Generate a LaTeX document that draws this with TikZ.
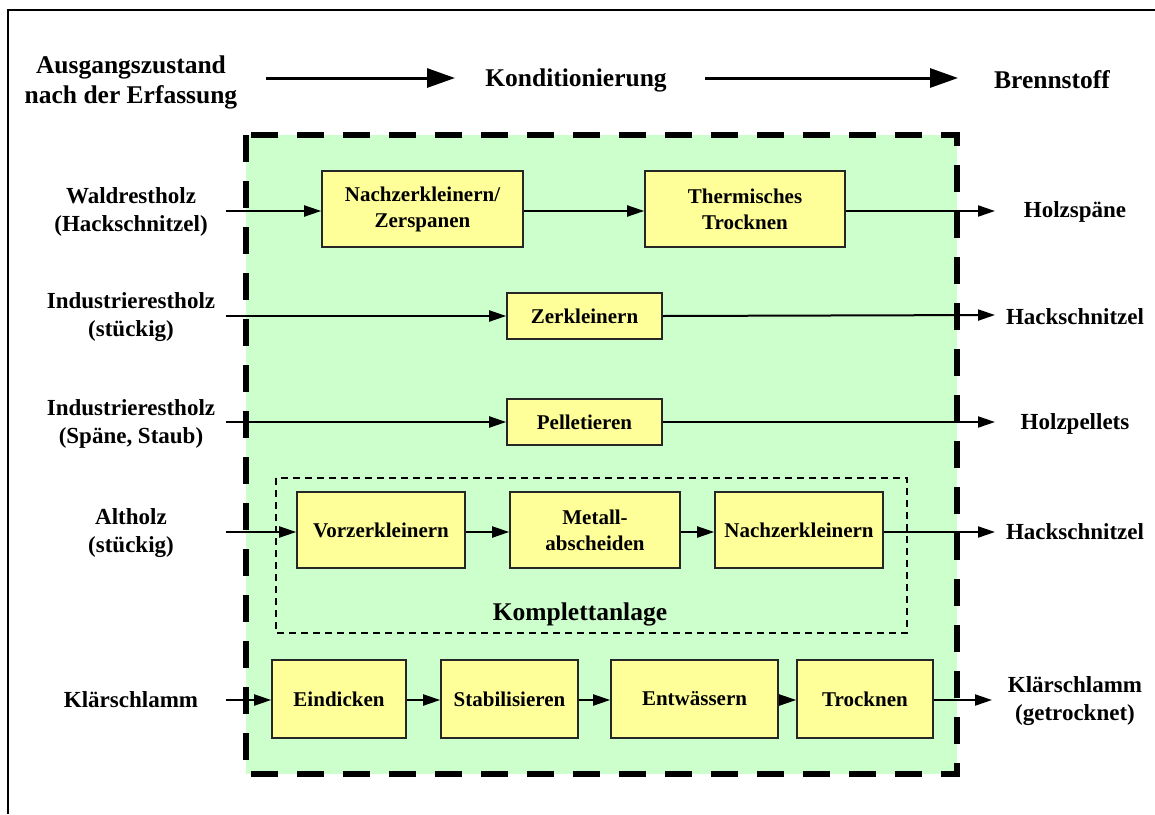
\documentclass[tikz,border=0pt]{standalone}
\usepackage{fontspec}
\setmainfont{Liberation Serif}
\usetikzlibrary{arrows.meta}
\definecolor{boxgreen}{HTML}{CCFFCC}
\definecolor{boxyellow}{HTML}{FFFF99}
\tikzset{
  proc/.style={draw=black!85, line width=1.6pt, fill=boxyellow, inner sep=0pt, align=center,
    font=\fontsize{21}{26}\selectfont\bfseries},
  lbl/.style={align=center, inner sep=0pt, font=\fontsize{23}{28}\selectfont\bfseries},
  hdr/.style={align=center, inner sep=0pt, font=\fontsize{25.5}{30}\selectfont\bfseries},
  flow/.style={line width=2pt, -{Triangle[length=17pt,width=11pt]}},
  bigflow/.style={line width=3pt, -{Triangle[length=28pt,width=19pt]}},
}
\begin{document}
\begin{tikzpicture}[x=1pt,y=-1pt]
\useasboundingbox (0,0) rectangle (1155,814);
% outer frame (top and left)
\draw[line width=2.5pt] (8,814) -- (8,10) -- (1155,10);
% green area
\fill[boxgreen] (246,135) rectangle (957,774);
\draw[line width=6.5pt, dash pattern=on 27pt off 19pt] (246,135) rectangle (957,774);
% Komplettanlage dashed
\draw[line width=1.6pt, dash pattern=on 7pt off 5pt] (276,478) rectangle (907,633);
\node[hdr] (komp) at (580,614) {Komplettanlage};

% header
\node[hdr] (h1) at (131,82) {Ausgangszustand\\nach der Erfassung};
\node[hdr] (h2) at (576,80) {Konditionierung};
\node[hdr] (h3) at (1052,80) {Brennstoff};
\coordinate (ha1) at (266,78);
\coordinate (hb1) at (455,78);
\coordinate (ha2) at (705,78);
\coordinate (hb2) at (958,78);
\draw[bigflow] (ha1) -- (hb1);
\draw[bigflow] (ha2) -- (hb2);

% left labels
\node[lbl] (l1) at (131,212) {Waldrestholz\\(Hackschnitzel)};
\node[lbl] (l2) at (131,317) {Industrierestholz\\(stückig)};
\node[lbl] (l3) at (131,424) {Industrierestholz\\(Späne, Staub)};
\node[lbl] (l4) at (131,533) {Altholz\\(stückig)};
\node[lbl] (l5) at (131,700) {Klärschlamm};

% right labels
\node[lbl] (r1) at (1075,212) {Holzspäne};
\node[lbl] (r2) at (1075,317) {Hackschnitzel};
\node[lbl] (r3) at (1075,424) {Holzpellets};
\node[lbl] (r4) at (1075,532) {Hackschnitzel};
\node[lbl] (r5) at (1075,701) {Klärschlamm\\(getrocknet)};

% boxes
\node[proc, minimum width=201pt, minimum height=76pt] (a1) at (422.5,209) {Nachzerkleinern/\\Zerspanen};
\node[proc, minimum width=200pt, minimum height=76pt] (a2) at (745,209) {Thermisches\\Trocknen};
\node[proc, minimum width=155pt, minimum height=46pt] (b1) at (584.5,316) {Zerkleinern};
\node[proc, minimum width=155pt, minimum height=46pt] (c1) at (584.5,422) {Pelletieren};
\node[proc, minimum width=168pt, minimum height=76pt] (d1) at (381,530) {Vorzerkleinern};
\node[proc, minimum width=170pt, minimum height=76pt] (d2) at (595,530) {Metall-\\abscheiden};
\node[proc, minimum width=168pt, minimum height=76pt] (d3) at (799,530) {Nachzerkleinern};
\node[proc, minimum width=134pt, minimum height=78pt] (e1) at (339,699) {Eindicken};
\node[proc, minimum width=137pt, minimum height=78pt] (e2) at (509.5,699) {Stabilisieren};
\node[proc, minimum width=167pt, minimum height=78pt] (e3) at (694.5,699) {Entwässern};
\node[proc, minimum width=136pt, minimum height=78pt] (e4) at (865,699) {Trocknen};

% connector endpoints
\coordinate (s1) at (226,211);
\coordinate (s2) at (226,316);
\coordinate (s3) at (226,422);
\coordinate (s4) at (226,532);
\coordinate (s5) at (226,700);
\coordinate (t1) at (995,211);
\coordinate (t2) at (995,315);
\coordinate (t3) at (995,422);
\coordinate (t4) at (995,532);
\coordinate (t5) at (992,700);

% row 1
\draw[flow] (s1) -- (a1.west |- s1);
\draw[flow] (a1.east |- s1) -- (a2.west |- s1);
\draw[flow] (a2.east |- s1) -- (t1);
% row 2
\draw[flow] (s2) -- (b1.west |- s2);
\draw[flow] (b1.east |- s2) -- (t2);
% row 3
\draw[flow] (s3) -- (c1.west |- s3);
\draw[flow] (c1.east |- s3) -- (t3);
% row 4
\draw[flow] (s4) -- (d1.west |- s4);
\draw[flow] (d1.east |- s4) -- (d2.west |- s4);
\draw[flow] (d2.east |- s4) -- (d3.west |- s4);
\draw[flow] (d3.east |- s4) -- (t4);
% row 5
\draw[flow] (s5) -- (e1.west |- s5);
\draw[flow] (e1.east |- s5) -- (e2.west |- s5);
\draw[flow] (e2.east |- s5) -- (e3.west |- s5);
\draw[flow] (e3.east |- s5) -- (e4.west |- s5);
\draw[flow] (e4.east |- s5) -- (t5);
\end{tikzpicture}
\end{document}
